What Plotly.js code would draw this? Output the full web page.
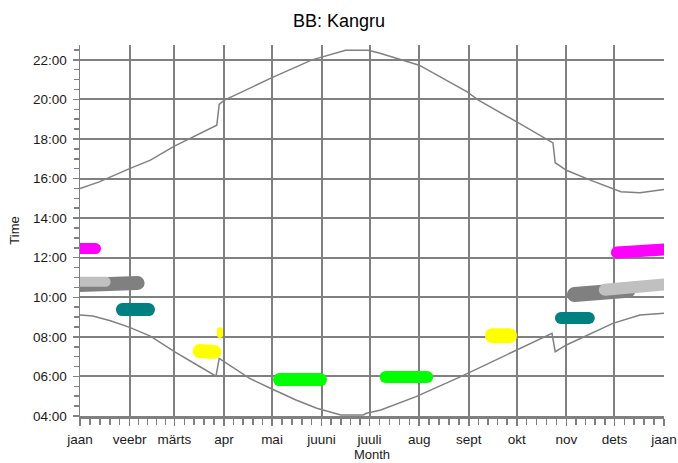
<!DOCTYPE html>
<html>
<head>
<meta charset="utf-8">
<script src="https://cdn.plot.ly/plotly-3.0.1.min.js"></script>
<style>
  html, body { margin: 0; padding: 0; background: #fff; }
  #chart { width: 678px; height: 463px; }
</style>
</head>
<body>
<div id="chart"></div>
<script>
// ---- axis labels ----
const monthStarts = [0, 31, 59, 90, 120, 151, 181, 212, 243, 273, 304, 334, 365];
const monthNames = ["jaan", "veebr", "märts", "apr", "mai", "juuni", "juuli", "aug", "sept", "okt", "nov", "dets", "jaan"];
const hourTicks = [4, 6, 8, 10, 12, 14, 16, 18, 20, 22];
const hourLabels = ["04:00", "06:00", "08:00", "10:00", "12:00", "14:00", "16:00", "18:00", "20:00", "22:00"];

// ---- sunset / sunrise curves (day of year, hour) ----
const sunsetDays  = [0, 12, 31, 44, 59, 75, 85.5, 87, 90, 120, 145, 166, 180, 187, 212, 242, 249, 273, 294, 295.6, 297, 304, 319, 333, 338, 350, 360, 365];
const sunsetHours = [15.5, 15.83, 16.5, 16.93, 17.64, 18.3, 18.7, 19.75, 19.95, 21.1, 22.0, 22.48, 22.48, 22.35, 21.73, 20.38, 19.96, 18.86, 17.85, 17.8, 16.8, 16.42, 15.92, 15.5, 15.33, 15.28, 15.38, 15.45];

const sunriseDays  = [0, 8, 19, 31, 44, 59, 75, 85, 87, 106, 119, 135, 148, 160, 163, 177, 179, 188, 210, 238, 273, 295, 297, 304, 333, 350, 365];
const sunriseHours = [9.1, 9.05, 8.81, 8.48, 8.04, 7.25, 6.49, 6.02, 6.91, 5.9, 5.4, 4.81, 4.39, 4.14, 4.05, 4.05, 4.14, 4.3, 4.98, 5.99, 7.33, 8.18, 7.25, 7.59, 8.68, 9.1, 9.19];

// ---- observation blobs (day of year, hour) ----
const magentaJanDays = [0, 9.7];     const magentaJanHours = [12.46, 12.46];
const darkGreyJanDays = [0, 36];     const darkGreyJanHours = [10.62, 10.72];
const lightGreyJanDays = [0, 16];    const lightGreyJanHours = [10.78, 10.78];
const tealFebDays = [26.5, 42.8];    const tealFebHours = [9.38, 9.38];
const yellowMarDays = [74.7, 84];    const yellowMarHours = [7.28, 7.24];
const yellowAprDays = [87.5, 87.5];  const yellowAprHours = [8.09, 8.34];
const greenMayDays = [124.7, 150.3]; const greenMayHours = [5.84, 5.84];
const greenJulDays = [191, 217];     const greenJulHours = [5.97, 5.97];
const yellowSepDays = [257.8, 268.4];const yellowSepHours = [8.06, 8.06];
const tealOctDays = [300.6, 318];    const tealOctHours = [8.95, 8.95];
const darkGreyNovDays = [309, 342.5];const darkGreyNovHours = [10.14, 10.35];
const lightGreyDecDays = [328, 365]; const lightGreyDecHours = [10.38, 10.65];
const magentaDecDays = [335.6, 365]; const magentaDecHours = [12.26, 12.42];

// minor ticks: 4 per month
const minorX = [];
for (let i = 0; i < monthStarts.length - 1; i++) {
  const a = monthStarts[i], b = monthStarts[i + 1];
  for (let k = 1; k <= 4; k++) minorX.push(a + k * (b - a) / 5);
}
// vertical grid lines at inner month boundaries only (no line at the right edge)
const gridX = monthStarts.slice(1, monthStarts.length - 1);

function curve(x, y) {
  return { x: x, y: y, type: 'scatter', mode: 'lines', hoverinfo: 'skip',
           line: { color: '#808080', width: 1.5 }, showlegend: false };
}
function blob(x, y, color, w) {
  return { x: x, y: y, type: 'scatter', mode: 'lines', hoverinfo: 'skip',
           line: { color: color, width: w }, showlegend: false, meta: 'blob' };
}

const traces = [
  blob(magentaJanDays, magentaJanHours, '#ff00ff', 11),
  blob(darkGreyJanDays, darkGreyJanHours, '#808080', 14),
  blob(lightGreyJanDays, lightGreyJanHours, '#c0c0c0', 10),
  blob(tealFebDays, tealFebHours, '#008080', 13),
  blob(yellowMarDays, yellowMarHours, '#ffff00', 14),
  blob(yellowAprDays, yellowAprHours, '#ffff00', 6),
  blob(greenMayDays, greenMayHours, '#00ff00', 13),
  blob(greenJulDays, greenJulHours, '#00ff00', 12),
  blob(yellowSepDays, yellowSepHours, '#ffff00', 15),
  blob(tealOctDays, tealOctHours, '#008080', 12),
  blob(darkGreyNovDays, darkGreyNovHours, '#808080', 15),
  blob(lightGreyDecDays, lightGreyDecHours, '#c0c0c0', 12),
  blob(magentaDecDays, magentaDecHours, '#ff00ff', 12),
  curve(sunsetDays, sunsetHours),
  curve(sunriseDays, sunriseHours)
];

const font = 'Liberation Sans, Arial, sans-serif';
const layout = {
  width: 678, height: 463,
  margin: { l: 80, r: 14, t: 45, b: 47 },
  paper_bgcolor: '#ffffff', plot_bgcolor: '#ffffff',
  font: { family: font, size: 13, color: '#1a1a1a' },
  title: { text: 'BB: Kangru', font: { family: font, size: 18, color: '#000' },
           x: 0.5, xref: 'container', xanchor: 'center', y: 0.955, yref: 'container', yanchor: 'middle' },
  xaxis: {
    range: [0, 365], tickmode: 'array', tickvals: monthStarts, ticktext: monthNames,
    showgrid: false, zeroline: false,
    showline: true, linecolor: '#808080', linewidth: 3,
    ticks: 'outside', ticklen: 7, tickwidth: 1.5, tickcolor: '#808080',
    minor: { tickmode: 'array', tickvals: minorX, ticks: 'outside', ticklen: 6, tickwidth: 1.5, tickcolor: '#808080', showgrid: false },
    tickfont: { size: 13.5 }, ticklabelstandoff: 2,
    title: { text: 'Month', font: { size: 13 }, standoff: 4 },
    fixedrange: true
  },
  xaxis2: {
    overlaying: 'x', matches: 'x', range: [0, 365], tickmode: 'array', tickvals: gridX,
    showgrid: true, gridcolor: '#808080', gridwidth: 2, zeroline: false,
    showline: false, ticks: '', showticklabels: false, fixedrange: true
  },
  yaxis: {
    range: [4, 22.75], tickmode: 'array', tickvals: hourTicks, ticktext: hourLabels,
    showgrid: true, gridcolor: '#808080', gridwidth: 2, zeroline: false,
    showline: true, linecolor: '#808080', linewidth: 1.5,
    ticks: 'outside', ticklen: 6, tickwidth: 1.5, tickcolor: '#808080',
    minor: { dtick: 0.5, tick0: 4, ticks: 'outside', ticklen: 5, tickwidth: 1.5, tickcolor: '#808080', showgrid: false },
    tickfont: { size: 13.5 }, ticklabelstandoff: 3,
    title: { text: 'Time', font: { size: 13 }, standoff: 10 },
    fixedrange: true
  }
};

// a hidden trace on x2 so its grid is drawn
traces.push({ x: [0], y: [4], xaxis: 'x2', type: 'scatter', mode: 'markers',
              marker: { opacity: 0 }, hoverinfo: 'skip', showlegend: false });

Plotly.newPlot('chart', traces, layout, { staticPlot: true, displayModeBar: false }).then(function (gd) {
  const groups = gd.querySelectorAll('.cartesianlayer .subplot.xy .scatterlayer .trace');
  groups.forEach(function (g, i) {
    if (traces[i] && traces[i].meta === 'blob') {
      g.querySelectorAll('path.js-line').forEach(function (p) { p.style.strokeLinecap = 'round'; });
    }
  });
});
</script>
</body>
</html>
